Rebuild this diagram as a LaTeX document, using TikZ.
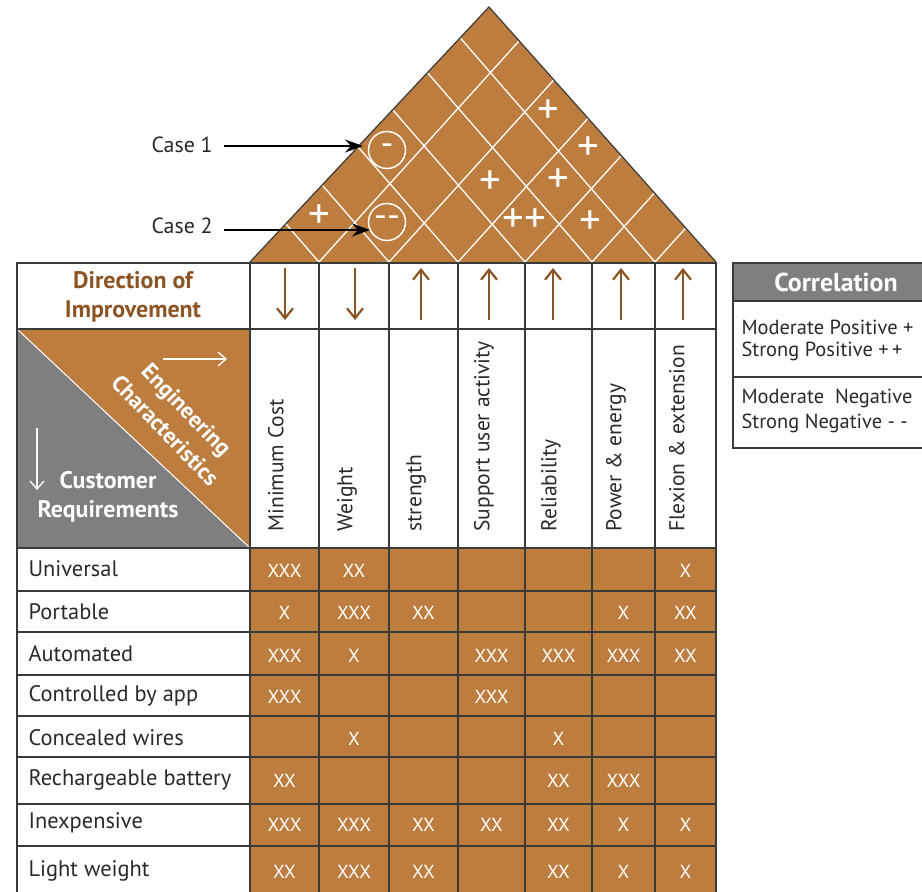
\documentclass[tikz,border=0pt]{standalone}
\usepackage{fontspec}
\setmainfont{PT Sans}
\usetikzlibrary{arrows.meta,calc}

\definecolor{housebrown}{HTML}{BC7D3E}
\definecolor{deepbrown}{HTML}{8C5424}
\definecolor{panelgray}{HTML}{7F7F7F}
\definecolor{gridline}{HTML}{3A3A3A}
\definecolor{inktext}{HTML}{2A2A2A}

\begin{document}
\begin{tikzpicture}[x=1bp,y=-1bp,
  tablegrid/.style={draw=gridline,line width=1.4bp},
  roofgrid/.style={draw=white,line width=1.3bp},
  roofedge/.style={draw=gridline,line width=1.2bp},
  roofsym/.style={text=white,font=\fontsize{43}{45}\selectfont,inner sep=0pt},
  roofcirc/.style={circle,draw=white,line width=1.5bp,minimum size=37bp,inner sep=0pt,
    text=white,font=\fontsize{36}{38}\selectfont},
  casetext/.style={anchor=west,text=inktext,font=\fontsize{22}{26}\selectfont},
  casearrow/.style={draw=black,line width=1.8bp,shorten <=8bp,
    -{Stealth[length=18bp,width=13bp,inset=6bp]}},
  dirarrow/.style={draw=deepbrown,line width=2.2bp,
    -{Straight Barb[length=10bp,width=16bp,line width=2.2bp]}},
  whitearrow/.style={draw=white,line width=1.3bp,
    -{Straight Barb[length=8bp,width=14bp,line width=1.3bp]}},
  boldhead/.style={align=center,font=\bfseries\fontsize{24}{29}\selectfont},
  rowlabel/.style={anchor=west,text=inktext,font=\fontsize{22.5}{26}\selectfont},
  colhead/.style={rotate=90,anchor=mid west,text=inktext,font=\fontsize{21.6}{26}\selectfont},
  entry/.style={text=white,font=\fontsize{19}{22}\selectfont},
  legendtext/.style={anchor=west,text=inktext,font=\fontsize{20.5}{24}\selectfont},
]
\useasboundingbox (0,0) rectangle (922,892);
\clip (0,0) rectangle (922,892);
\fill[white] (0,0) rectangle (922,892);

% ---------- roof (correlation matrix) ----------
\coordinate (apex) at (489,7);
\coordinate (roofL) at (250,262);
\coordinate (roofR) at (716,262);
\fill[housebrown] (roofL) -- (apex) -- (roofR) -- cycle;
\begin{scope}
  \clip (roofL) -- (apex) -- (roofR) -- cycle;
  \foreach \bx in {319,389,458,525,592,655}{
    \draw[roofgrid] (\bx,262) -- ++(0.905*320,-320);
    \draw[roofgrid] (\bx,262) -- ++(-0.869*320,-320);
  }
\end{scope}
\draw[roofedge] (roofL) -- (apex) -- (roofR);

\node[roofsym] (r37) at (548,112) {+};
\node[roofsym] (r47) at (588,149) {+};
\node[roofsym] (r35) at (490,183) {+};
\node[roofsym] (r46) at (558,181) {+};
\node[roofsym] (r12) at (319,217) {+};
\node[roofsym] (r45) at (524,221) {++};
\node[roofsym] (r56) at (590,223) {+};
\node[roofcirc] (r14) at (387,150) {\hbox{-}};
\node[roofcirc] (r23) at (387,222) {\hbox{-}\hbox{-}};

% ---------- case callouts ----------
\node[casetext] (case1) at (148,145) {Case 1};
\node[casetext] (case2) at (148,226) {Case 2};
\coordinate (case1tip) at (363,146);
\coordinate (case2tip) at (370,230);
\draw[casearrow] (case1.east |- case1tip) -- (case1tip);
\draw[casearrow] (case2.east |- case2tip) -- (case2tip);

% ---------- main table ----------
\fill[housebrown] (250,548) rectangle (716,905);
\fill[panelgray] (17,329) -- (17,548) -- (250,548) -- cycle;
\fill[housebrown] (17,329) -- (250,329) -- (250,548) -- cycle;
\draw[white,line width=1bp] (17,329) -- (250,548);

\foreach \yy in {329,548,591,632,675,716,757,804,846}
  \draw[tablegrid] (17,\yy) -- (716,\yy);
\foreach \xx in {250,319,389,458,525,592,655}
  \draw[tablegrid] (\xx,263) -- (\xx,905);
\draw[tablegrid] (17,905) -- (17,263) -- (716,263) -- (716,905);

% direction of improvement
\node[boldhead,text=deepbrown] (dirlabel) at (133,297) {Direction of\\Improvement};
\draw[dirarrow] (285,268) -- (285,320);
\draw[dirarrow] (355,268) -- (355,320);
\foreach \ax in {421,489,553,621,683}
  \draw[dirarrow] (\ax,320) -- (\ax,268);

% corner panel
\draw[whitearrow] (163,359) -- (227,359);
\draw[whitearrow] (37,428) -- (37,490);
\node[boldhead,text=white,rotate=-46,font=\bfseries\fontsize{23}{30}\selectfont]
  (engchar) at (176,420) {Engineering\\Characteristics};
\node[boldhead,text=white] (custreq) at (108,497) {Customer\\Requirements};

% engineering characteristics
\node[colhead] (h1) at (281,535) {Minimum Cost};
\node[colhead] (h2) at (350,535) {Weight};
\node[colhead] (h3) at (419,535) {strength};
\node[colhead] (h4) at (487,535) {Support user activity};
\node[colhead] (h5) at (554,535) {Reliability};
\node[colhead] (h6) at (619,535) {Power \& energy};
\node[colhead] (h7) at (682,535) {Flexion \& extension};

% customer requirements
\foreach \name/\yy/\txt in {q1/569/Universal,q2/612/Portable,q3/654/Automated,
  q4/696/Controlled by app,q5/738/Concealed wires,q6/780/Rechargeable battery,
  q7/823/Inexpensive,q8/871/Light weight}
  \node[rowlabel] (\name) at (25,\yy) {\txt};

% relationship matrix
\foreach \r/\c/\txt in {
  1/1/XXX,1/2/XX,1/7/X,
  2/1/X,2/2/XXX,2/3/XX,2/6/X,2/7/XX,
  3/1/XXX,3/2/X,3/4/XXX,3/5/XXX,3/6/XXX,3/7/XX,
  4/1/XXX,4/4/XXX,
  5/2/X,5/5/X,
  6/1/XX,6/5/XX,6/6/XXX,
  7/1/XXX,7/2/XXX,7/3/XX,7/4/XX,7/5/XX,7/6/X,7/7/X,
  8/1/XX,8/2/XXX,8/3/XX,8/5/XX,8/6/X,8/7/X}{
  \pgfmathsetmacro{\ex}{{284.5,354,423.5,491.5,558.5,623.5,685.5}[\c-1]}
  \pgfmathsetmacro{\ey}{{571,613,656,697,739,781,825,872}[\r-1]}
  \node[entry] (m\r-\c) at (\ex,\ey) {\txt};
}

% ---------- legend ----------
\fill[white] (733,263) rectangle (940,448);
\fill[panelgray] (733,263) rectangle (940,301);
\draw[tablegrid] (940,263) -- (733,263) -- (733,448) -- (940,448);
\draw[tablegrid] (733,301) -- (940,301);
\draw[tablegrid] (733,377) -- (940,377);
\node[text=white,font=\bfseries\fontsize{26}{30}\selectfont] (legtitle) at (836,282) {Correlation};
\node[legendtext] (leg1) at (738,327) {Moderate Positive\ +};
\node[legendtext] (leg2) at (738,351) {Strong Positive\ +\,+};
\node[legendtext] (leg3) at (738,398) {Moderate\ \ Negative};
\node[legendtext] (leg4) at (738,423) {Strong Negative\ -\ -};
\end{tikzpicture}
\end{document}
